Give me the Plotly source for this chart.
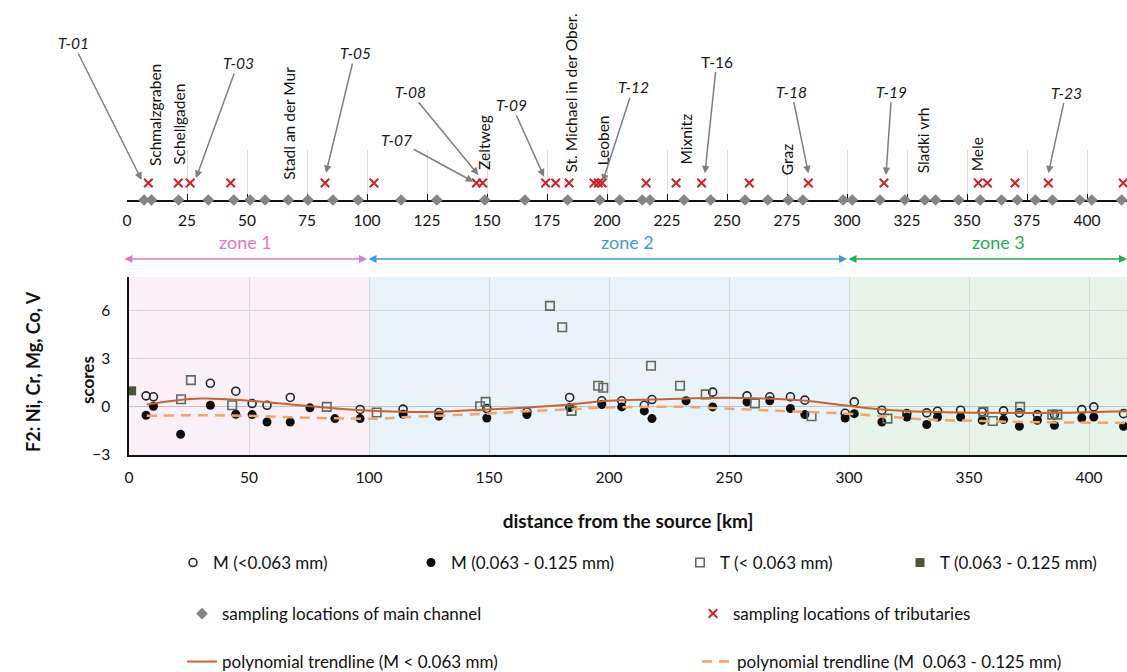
import plotly.graph_objects as go

# ---------------- data ----------------
# main channel sampling locations (km from source)
main_km = [7.1, 10.2, 21.5, 33.9, 44.5, 51.3, 57.5, 67.2, 75.4, 85.8, 96.3,
           114.2, 129.1, 149.1, 165.8, 183.6, 197.0, 205.3, 214.7, 217.9, 232.1,
           243.2, 257.5, 267.0, 275.6, 281.6, 298.4, 302.2, 313.7, 324.1, 332.4,
           336.9, 346.5, 355.5, 364.4, 371.0, 378.5, 385.6, 397.0, 402.0, 414.4]
# F2 scores, main channel, <0.063 mm
m_fine = [0.69, 0.63, None, 1.47, 0.98, 0.21, 0.10, 0.59, None, None, -0.16,
          -0.14, -0.35, -0.10, -0.31, 0.59, 0.38, 0.38, 0.10, 0.46, None,
          0.92, 0.69, 0.63, 0.63, 0.42, -0.40, 0.31, -0.21, -0.42, -0.37,
          -0.27, -0.21, -0.31, -0.25, -0.37, -0.48, -0.48, -0.17, 0.00, -0.42]
# F2 scores, main channel, 0.063 - 0.125 mm
m_coarse = [-0.52, 0.04, -1.71, 0.10, -0.46, -0.48, -0.94, -0.94, -0.06, -0.73, -0.73,
            -0.46, -0.58, -0.69, -0.48, -0.04, 0.15, 0.00, -0.25, -0.73, 0.38,
            0.00, 0.31, 0.38, -0.10, -0.48, -0.69, -0.42, -0.94, -0.63, -1.10,
            -0.63, -0.63, -0.83, -0.79, -1.21, -0.83, -1.15, -0.69, -0.63, -1.21]

# tributaries
t_km = [21.7, 25.8, 43.0, 82.4, 103.2, 146.3, 148.6, 175.4, 180.5, 184.4, 195.5,
        197.6, 217.5, 229.6, 240.3, 260.8, 284.4, 316.0, 356.0, 359.9, 371.3,
        384.7, 386.8]
t_fine = [0.48, 1.67, 0.10, 0.00, -0.35, 0.04, 0.31, 6.30, 4.97, -0.25, 1.32,
          1.19, 2.57, 1.32, 0.78, 0.21, -0.58, -0.73, -0.31, -0.88, 0.00,
          -0.48, -0.48]
tc_km = [1.1]
t_coarse = [1.0]

# tributary sampling locations on the location strip
trib_km = [8.9, 21.4, 26.3, 43.2, 82.5, 102.9, 145.6, 148.2, 174.4, 178.6, 184.2,
           194.6, 196.4, 198.0, 216.3, 228.8, 239.4, 259.3, 283.9, 315.4, 354.7,
           358.5, 370.0, 383.9, 415.1]

# polynomial trendlines
trend_fine_km = [7.4, 29.6, 50.4, 71, 92, 113, 129, 149, 166, 184, 200, 218, 242,
                 266, 282, 299, 314, 333, 356, 386, 415.8]
trend_fine = [0.15, 0.52, 0.38, 0.10, -0.17, -0.31, -0.31, -0.16, -0.04, 0.15, 0.38,
              0.46, 0.56, 0.52, 0.38, 0.08, -0.16, -0.31, -0.37, -0.37, -0.27]
trend_coarse_km = [7.4, 29.6, 50, 71, 92, 105, 114, 129, 149, 166, 184, 197, 215,
                   232, 258, 276, 299, 314, 333, 356, 372, 415.8]
trend_coarse = [-0.56, -0.52, -0.56, -0.66, -0.73, -0.73, -0.65, -0.55, -0.42, -0.27,
                -0.15, -0.05, 0.0, 0.0, -0.17, -0.28, -0.42, -0.58, -0.79, -0.88,
                -0.94, -1.0]

# town names along the river
towns = ["Schmalzgraben", "Schellgaden", "Stadl an der Mur", "Zeltweg",
         "St. Michael in der Ober.", "Leoben", "Mixnitz", "Graz", "Sladki vrh", "Mele"]
town_km = [11.7, 21.4, 67.6, 148.5, 184.6, 198.5, 232.5, 274.9, 331.8, 354.3]

# labelled tributaries and the km they point to
trib_labels = ["T-01", "T-03", "T-05", "T-07", "T-08", "T-09", "T-12", "T-16",
               "T-18", "T-19", "T-23"]
trib_label_km = [6.1, 28.75, 82.9, 144.3, 146.4, 173.75, 198.2, 240.8, 283.9,
                 316.25, 383.9]

zone_names = ["zone 1", "zone 2", "zone 3"]
zone_bounds = [0, 100, 300, 420]

# ---------------- layout helpers ----------------
W, H = 1127, 672
L = 127
PW = W - L
KM_PX = 2.4
X2MAX = PW / KM_PX
X1_SHIFT = 2


def pp(py):
    return 1 - py / H


def px2paper(px):
    return (px - L) / PW


FONT = "Lato"
C_OPEN = "#1e2430"
C_FILL = "#0d0d0d"
C_SQ = "#5c6b5c"
C_SQF = "#4a5636"
C_TR1 = "#c8642c"
C_TR2 = "#f0a46e"
ZONE_COL = ["#e377c8", "#3d9ae0", "#22b04e"]
ZONE_BG = ["#fcf0f8", "#e9f3fb", "#e6f4ea"]

fig = go.Figure()

fig.add_trace(go.Scatter(x=main_km, y=m_fine, mode="markers", name="M (<0.063 mm)",
                         marker=dict(symbol="circle-open", size=8, color=C_OPEN,
                                     line=dict(width=1.6, color=C_OPEN)),
                         legend="legend", showlegend=True))
fig.add_trace(go.Scatter(x=main_km, y=m_coarse, mode="markers", name="M (0.063 - 0.125 mm)",
                         marker=dict(symbol="circle", size=9, color=C_FILL),
                         legend="legend2", showlegend=True))
fig.add_trace(go.Scatter(x=t_km, y=t_fine, mode="markers", name="T (< 0.063 mm)",
                         marker=dict(symbol="square-open", size=8.5, color=C_SQ,
                                     line=dict(width=1.6, color=C_SQ)),
                         legend="legend3", showlegend=True))
fig.add_trace(go.Scatter(x=tc_km, y=t_coarse, mode="markers", name="T (0.063 - 0.125 mm)",
                         marker=dict(symbol="square", size=9, color=C_SQF),
                         cliponaxis=False, legend="legend4", showlegend=True))
fig.add_trace(go.Scatter(x=trend_fine_km, y=trend_fine, mode="lines",
                         name="polynomial trendline (M < 0.063 mm)",
                         line=dict(color=C_TR1, width=2, shape="spline", smoothing=1),
                         legend="legend7", showlegend=True))
fig.add_trace(go.Scatter(x=trend_coarse_km, y=trend_coarse, mode="lines",
                         name="polynomial trendline (M  0.063 - 0.125 mm)",
                         line=dict(color=C_TR2, width=2.5, dash="10px,7px",
                                   shape="spline", smoothing=1),
                         legend="legend8", showlegend=True))

# location strip
fig.add_trace(go.Scatter(x=main_km, y=[0] * len(main_km), xaxis="x2", yaxis="y2",
                         mode="markers", name="sampling locations of main channel",
                         marker=dict(symbol="diamond", size=9, color="#858585"),
                         cliponaxis=False, legend="legend5", showlegend=True))
fig.add_trace(go.Scatter(x=trib_km, y=[1] * len(trib_km), xaxis="x2", yaxis="y2",
                         mode="markers", name="sampling locations of tributaries",
                         marker=dict(symbol="x-thin-open", size=8.5, color="#d0202a",
                                     line=dict(width=2, color="#d0202a")),
                         cliponaxis=False, legend="legend6", showlegend=True))

# zone backgrounds
shapes = []
for i in range(3):
    shapes.append(dict(type="rect", xref="x", yref="y domain",
                       x0=zone_bounds[i], x1=zone_bounds[i + 1], y0=0, y1=1,
                       fillcolor=ZONE_BG[i], line=dict(width=0), layer="below"))

annotations = []
# zone arrows and labels
zone_label_km = [49.2, 208.7, 363.0]
for i in range(3):
    x0 = zone_bounds[i] - (1.7 if i == 0 else 0)
    x1 = min(zone_bounds[i + 1], X2MAX)
    annotations.append(dict(x=x1, y=pp(259), xref="x2", yref="paper",
                            ax=x0, ay=0, axref="x2", ayref="pixel",
                            text="", showarrow=True, arrowhead=2, arrowsize=1,
                            startarrowhead=2, startarrowsize=1,
                            arrowside="end+start", arrowwidth=1.6,
                            arrowcolor=ZONE_COL[i]))
    annotations.append(dict(x=zone_label_km[i], y=pp(242), xref="x2", yref="paper",
                            text=zone_names[i], showarrow=False,
                            font=dict(family=FONT, size=18, color=ZONE_COL[i])))

# town labels (rotated)
town_bottom_px = [168, 167, 182, 172, 175, 167, 167, 177, 175, 173]
for name, km, bpx in zip(towns, town_km, town_bottom_px):
    annotations.append(dict(x=km, y=pp(bpx), xref="x2", yref="paper",
                            text=name, textangle=-90, showarrow=False,
                            xanchor="center", yanchor="bottom",
                            font=dict(family=FONT, size=15.5, color="#111")))

# tributary labels with arrows: (tip_y_px, text_x_px, text_y_px)
trib_geo = [(180, 73, 43), (178, 238, 63), (173, 355, 53), (181.7, 396.7, 140),
            (175, 410, 91.7), (176.7, 511.7, 105), (181.7, 633.3, 87.3),
            (173.3, 716.7, 61.7), (173.3, 791.7, 91.7), (175, 891.7, 91.7),
            (173.3, 1066, 92.7)]
for lab, km, (tip_y, tx, ty) in zip(trib_labels, trib_label_km, trib_geo):
    tip_x = L + km * KM_PX
    italic = lab != "T-16"
    annotations.append(dict(x=km, y=pp(tip_y), xref="x2", yref="paper",
                            ax=tx - tip_x, ay=ty - tip_y,
                            text=("<i>%s</i>" % lab) if italic else lab,
                            showarrow=True, arrowhead=2, arrowsize=1, arrowwidth=1.5,
                            arrowcolor="#7f7f7f", standoff=0,
                            font=dict(family=FONT, size=15.5, color="#1a1a1a")))

# y-axis titles (two separate text boxes as in the original)
annotations.append(dict(x=px2paper(33), y=pp(372), xref="paper", yref="paper",
                        text="<b>F2: Ni, Cr, Mg, Co, V</b>", textangle=-90,
                        showarrow=False, xanchor="center", yanchor="middle",
                        font=dict(family=FONT, size=18, color="#111")))
annotations.append(dict(x=px2paper(87), y=pp(380), xref="paper", yref="paper",
                        text="<b>scores</b>", textangle=-90,
                        showarrow=False, xanchor="center", yanchor="middle",
                        font=dict(family=FONT, size=17, color="#111")))

fig.update_layout(
    width=W, height=H, showlegend=True,
    margin=dict(l=L, r=0, t=0, b=0, autoexpand=False),
    paper_bgcolor="white", plot_bgcolor="rgba(0,0,0,0)",
    font=dict(family=FONT, size=15, color="#111"),
    shapes=shapes, annotations=annotations,
    xaxis=dict(domain=[X1_SHIFT / PW, 1], range=[0, (PW - X1_SHIFT) / KM_PX],
               dtick=50, tick0=0, showgrid=True, gridcolor="#d3d6da", gridwidth=1,
               showline=True, linecolor="#111", linewidth=1.5, ticks="",
               zeroline=False, ticklabelstandoff=8,
               tickfont=dict(family=FONT, size=15.5, color="#111"),
               title=dict(text="<b>distance from the source [km]</b>", standoff=29,
                          font=dict(family=FONT, size=19, color="#111")),
               anchor="y"),
    yaxis=dict(domain=[pp(455), pp(277)], range=[-3, 8.1], dtick=3, tick0=0,
               showgrid=True, gridcolor="#d3d6da", gridwidth=1,
               showline=True, linecolor="#111", linewidth=1.5, ticks="",
               zeroline=True, zerolinecolor="#bfc3c7", zerolinewidth=1.2,
               ticklabelstandoff=14,
               tickfont=dict(family=FONT, size=15.5, color="#111"),
               anchor="x"),
    xaxis2=dict(domain=[0, 1], range=[0, X2MAX], dtick=25, tick0=0,
                showgrid=True, gridcolor="#dcdcdc", gridwidth=1,
                showline=True, linecolor="#111", linewidth=1.5,
                ticks="inside", ticklen=6, tickcolor="#111", tickwidth=1.3,
                zeroline=False, ticklabelstandoff=6, layer="below traces",
                tickfont=dict(family=FONT, size=15.5, color="#111"),
                anchor="y2"),
    yaxis2=dict(domain=[pp(200), pp(150)], range=[0, 50 / 17], visible=False,
                anchor="x2"),
)

leg_common = dict(bgcolor="rgba(0,0,0,0)", borderwidth=0, xanchor="left",
                  yanchor="middle", orientation="h",
                  font=dict(family=FONT, size=17, color="#111"))
legend_pos = {"legend": (173, 563), "legend2": (411, 563), "legend3": (680, 563),
              "legend4": (900, 563), "legend5": (182, 614), "legend6": (693, 614),
              "legend7": (182, 662), "legend8": (697, 662)}
for key, (px, py) in legend_pos.items():
    fig.update_layout({key: dict(x=px2paper(px), y=pp(py), **leg_common)})

fig.write_html("out.html")
